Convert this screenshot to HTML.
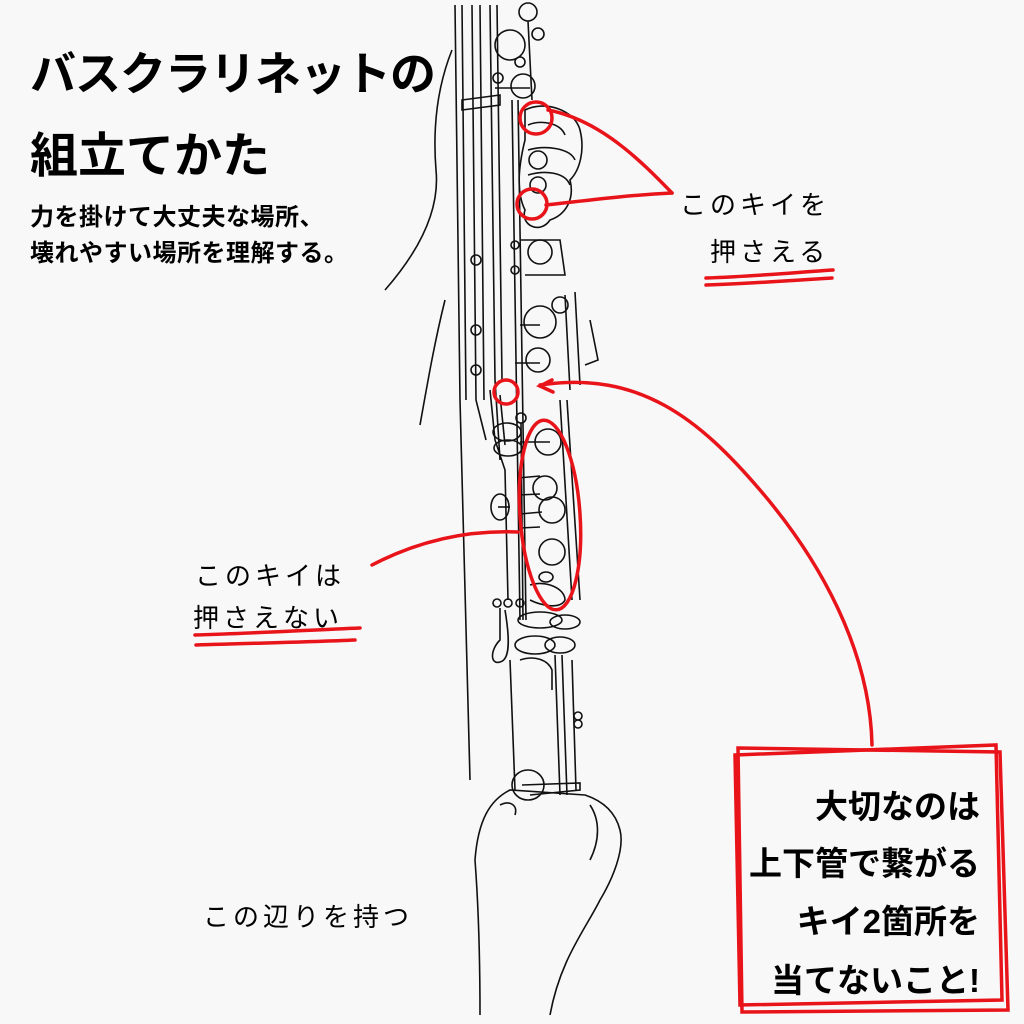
<!DOCTYPE html>
<html><head><meta charset="utf-8"><style>
html,body{margin:0;padding:0;background:#f8f8f8;}
.w{position:relative;width:1024px;height:1024px;overflow:hidden;background:#f8f8f8;font-family:"Liberation Sans","Noto Sans CJK JP",sans-serif;}
.t{position:absolute;white-space:nowrap;color:#000;}
svg{position:absolute;left:0;top:0;}
</style></head><body><div class="w">
<svg width="1024" height="1024" viewBox="0 0 1024 1024" fill="none" stroke="#111" stroke-width="1.6">
<path d="M452 50 C440 80 432 120 436 170 C440 210 420 250 385 290"/>
<path d="M445 300 C435 340 428 380 420 425"/>
<path d="M455 5 L460 400 L470 780"/><path d="M462 5 L466 400"/>
<path d="M472 5 L476 400 L486 440"/><path d="M480 5 L484 400"/>
<path d="M490 5 L495 380 L500 460"/><path d="M497 5 L502 380"/>
<path d="M512 100 L520 620"/><path d="M518 100 L526 620"/>
<circle cx="528" cy="12" r="9"/><path d="M528 21 L532 100"/>
<circle cx="510" cy="45" r="15"/><circle cx="538" cy="34" r="6"/>
<circle cx="523" cy="86" r="12"/><path d="M495 88 L530 88"/>
<circle cx="520" cy="62" r="5"/>
<circle cx="498" cy="78" r="5"/>
<path d="M462 100 L500 95 L500 105 L462 110Z"/>
<path d="M525 110 C545 100 575 110 580 130 C585 150 580 170 570 180 C575 200 565 215 550 220 C540 235 520 225 525 210 C515 190 520 160 525 140Z"/>
<path d="M528 125 C540 120 560 122 565 135"/><path d="M528 150 C545 145 570 148 575 160"/>
<path d="M528 175 C545 170 565 172 570 185"/>
<circle cx="538" cy="160" r="9"/><circle cx="538" cy="185" r="8"/>
<circle cx="540" cy="252" r="12"/><path d="M520 240 L560 240 L565 275 L525 275"/>
<circle cx="515" cy="245" r="4"/><circle cx="515" cy="270" r="4"/>
<path d="M565 295 L570 390"/><path d="M575 292 L580 385"/><path d="M590 320 L598 360 L585 365"/>
<circle cx="540" cy="322" r="16"/><path d="M520 325 L540 325"/>
<circle cx="560" cy="305" r="8"/>
<circle cx="538" cy="360" r="12"/><path d="M515 363 L540 363"/>
<circle cx="476" cy="370" r="5"/><circle cx="476" cy="330" r="5"/><circle cx="476" cy="260" r="5"/>
<path d="M490 390 L495 440 L505 470 L508 600"/>
<path d="M500 395 L505 445"/>
<path d="M560 400 L572 600"/><path d="M567 400 L580 600"/>
<ellipse cx="507" cy="432" rx="14" ry="9"/><ellipse cx="508" cy="448" rx="14" ry="8"/>
<circle cx="521" cy="418" r="5"/><path d="M521 423 L523 620"/>
<circle cx="548" cy="442" r="13"/><path d="M520 442 L550 442"/>
<ellipse cx="500" cy="507" rx="9" ry="13"/><path d="M498 507 L510 507"/>
<circle cx="545" cy="488" r="12"/><circle cx="552" cy="510" r="13"/>
<circle cx="552" cy="552" r="13"/><ellipse cx="546" cy="577" rx="7" ry="5"/>
<path d="M530 585 C545 580 565 588 565 600 C560 610 540 605 530 600"/>
<path d="M518 478 L540 476 M518 495 L540 494 M520 514 L542 512 M520 528 L540 527"/>
<circle cx="497" cy="603" r="4"/><circle cx="508" cy="603" r="4"/><circle cx="520" cy="603" r="4"/>
<path d="M500 608 L500 640 C490 650 490 665 500 662 C510 660 510 640 505 610"/>
<ellipse cx="540" cy="620" rx="22" ry="8"/><ellipse cx="565" cy="622" rx="15" ry="7"/>
<ellipse cx="535" cy="645" rx="20" ry="9"/><ellipse cx="560" cy="645" rx="15" ry="8"/>
<path d="M520 660 C535 655 548 660 552 670 L552 690"/>
<path d="M510 660 L515 790"/><path d="M572 660 L576 790"/>
<path d="M555 655 L560 795"/><path d="M562 655 L567 795"/>
<ellipse cx="528" cy="785" rx="16" ry="15"/><path d="M522 785 L580 783 L580 790 L530 795"/>
<circle cx="578" cy="716" r="4"/><circle cx="578" cy="724" r="4"/>
<path d="M480 1015 C480 960 478 900 475 860 C478 820 490 800 510 790 L585 795 C600 800 615 810 620 830 C625 850 612 880 600 900 C585 930 560 960 550 1015"/>
<path d="M500 805 C510 800 518 805 515 815"/>
<path d="M590 805 C600 820 600 840 590 860"/>
</svg>
<svg width="1024" height="1024" viewBox="0 0 1024 1024" fill="none" stroke="#e8141a" stroke-width="3.5" stroke-linecap="round">
<circle cx="536" cy="118" r="16"/>
<circle cx="532" cy="204" r="15"/>
<path d="M548 110 C600 120 640 160 672 193"/>
<path d="M546 205 C590 200 630 195 672 193"/>
<circle cx="506" cy="392" r="12"/>
<ellipse cx="550" cy="515" rx="30" ry="95" transform="rotate(-4 550 515)"/>
<path d="M372 565 C420 540 470 530 518 532"/>
<path d="M540 385 C640 370 700 420 760 490 C820 560 870 650 872 745"/>
<path d="M552 380 L540 386 L553 392"/>
<path d="M738 748 L1000 752 L1008 1010 L742 1012 Z"/>
<path d="M735 755 L996 745 L1002 1000 L740 1005 Z"/>
<path d="M706 278 C760 276 800 272 833 270 M706 285 C760 283 800 280 832 278"/>
<path d="M195 635 C260 633 310 630 360 628 M196 645 C260 643 310 642 355 640"/>
</svg>
<div class="t" style="left:30px;top:38px;font-size:46px;font-weight:bold;letter-spacing:-1px;">バスクラリネットの</div>
<div class="t" style="left:30px;top:116px;font-size:48px;font-weight:bold;">組立てかた</div>
<div class="t" style="left:30px;top:197px;font-size:24px;font-weight:bold;letter-spacing:0.5px;">力を掛けて大丈夫な場所、</div>
<div class="t" style="left:30px;top:233px;font-size:24px;font-weight:bold;letter-spacing:0.5px;">壊れやすい場所を理解する。</div>
<div class="t" style="left:680px;top:185px;font-size:26px;letter-spacing:4px;">このキイを</div>
<div class="t" style="left:710px;top:232px;font-size:26px;letter-spacing:4px;">押さえる</div>
<div class="t" style="left:195px;top:556px;font-size:26px;letter-spacing:4px;">このキイは</div>
<div class="t" style="left:193px;top:598px;font-size:26px;letter-spacing:4px;">押さえない</div>
<div class="t" style="left:203px;top:897px;font-size:26px;letter-spacing:4px;">この辺りを持つ</div>
<div class="t" style="right:44px;top:780px;font-size:33px;font-weight:bold;text-align:right;">大切なのは</div>
<div class="t" style="right:44px;top:837px;font-size:33px;font-weight:bold;">上下管で繋がる</div>
<div class="t" style="right:44px;top:895px;font-size:33px;font-weight:bold;">キイ2箇所を</div>
<div class="t" style="right:44px;top:954px;font-size:33px;font-weight:bold;">当てないこと!</div>
</div></body></html>
